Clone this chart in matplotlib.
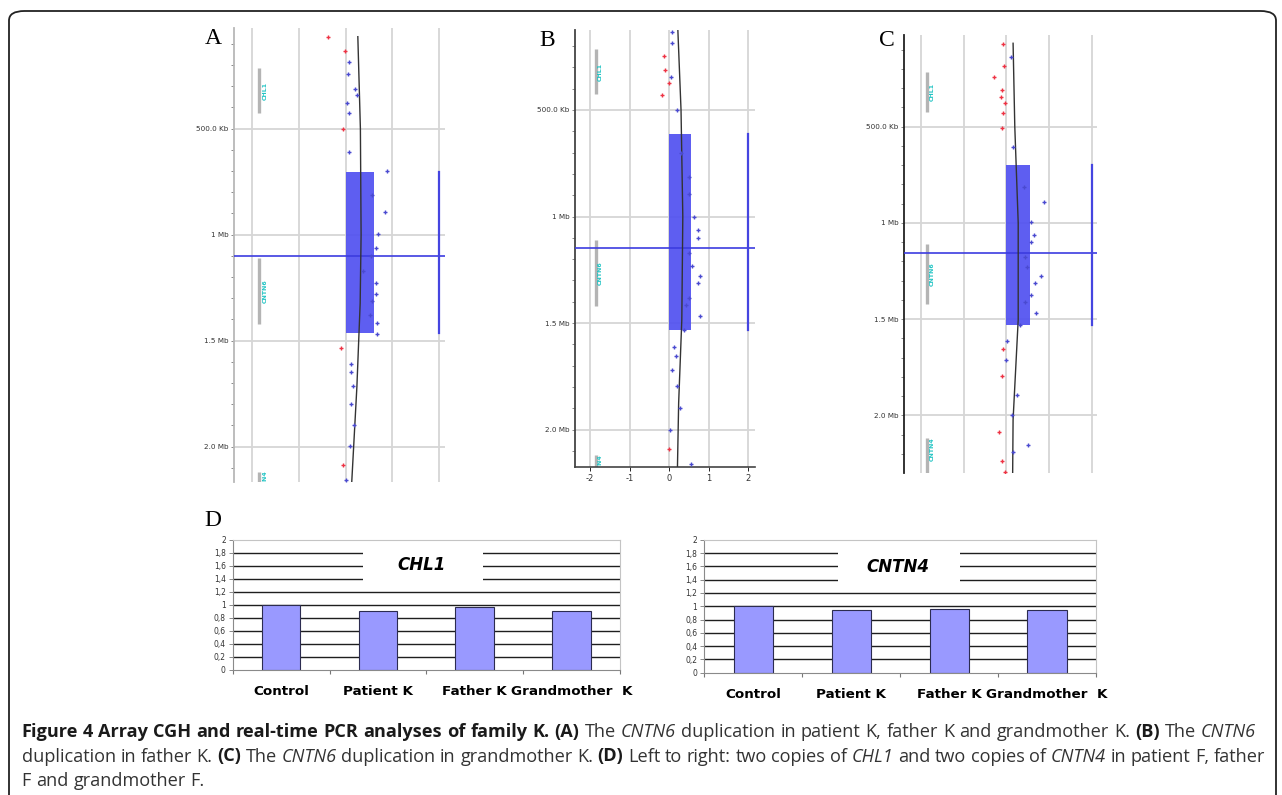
import matplotlib
matplotlib.use("Agg")
import matplotlib.pyplot as plt
from matplotlib.patches import Rectangle, FancyBboxPatch
from matplotlib.ticker import MultipleLocator, FixedLocator
import numpy as np

W, H = 1282, 795

# ---- array CGH data (x = log2 ratio, y = position in Mb) ----
a_red_x = [-0.39, -0.01, -0.06, -0.11, -0.05]
a_red_y = [0.069, 0.134, 0.503, 1.533, 2.086]
a_blue_x = [0.08, 0.04, 0.20, 0.24, 0.02, 0.06, 0.07, 0.89, 0.57, 0.85, 0.69, 0.64,
            0.54, 0.38, 0.66, 0.64, 0.57, 0.52, 0.68, 0.68, 0.11, 0.11, 0.16, 0.11,
            0.17, 0.09, 0.00]
a_blue_y = [0.187, 0.242, 0.313, 0.343, 0.377, 0.428, 0.608, 0.700, 0.813, 0.895, 0.997,
            1.061, 1.101, 1.170, 1.228, 1.278, 1.313, 1.377, 1.415, 1.469, 1.612, 1.649,
            1.714, 1.799, 1.898, 1.998, 2.159]
a_curve_x = [0.26, 0.315, 0.33, 0.31, 0.24, 0.13]
a_curve_y = [0.066, 0.5, 1.0, 1.324, 1.717, 2.165]
a_segment = [0.703, 1.465]
a_seg_width = 0.61
a_break = 1.102

b_red_x = [-0.14, -0.11, 0.00, -0.17, 0.00]
b_red_y = [0.247, 0.313, 0.375, 0.428, 2.091]
b_blue_x = [0.06, 0.08, 0.05, 0.20, 0.29, 0.51, 0.49, 0.62, 0.73, 0.72, 0.51, 0.57,
            0.78, 0.73, 0.51, 0.43, 0.78, 0.37, 0.13, 0.17, 0.08, 0.20, 0.28, 0.03, 0.56]
b_blue_y = [0.136, 0.188, 0.344, 0.500, 0.700, 0.816, 0.894, 1.000, 1.063, 1.102, 1.172,
            1.230, 1.278, 1.313, 1.380, 1.414, 1.466, 1.534, 1.613, 1.652, 1.719, 1.797,
            1.898, 2.000, 2.159]
b_curve_x = [0.22, 0.30, 0.345, 0.32, 0.24, 0.21]
b_curve_y = [0.125, 0.5, 1.0, 1.484, 1.875, 2.175]
b_segment = [0.613, 1.531]
b_seg_width = 0.556
b_break = 1.147

c_red_x = [-0.07, -0.06, -0.28, -0.11, -0.13, -0.03, -0.08, -0.09, -0.08, -0.11,
           -0.16, -0.10, -0.02]
c_red_y = [0.071, 0.185, 0.244, 0.310, 0.344, 0.375, 0.427, 0.505, 1.654, 1.794,
           2.086, 2.239, 2.296]
c_blue_x = [0.10, 0.15, 0.41, 0.88, 0.59, 0.65, 0.59, 0.44, 0.48, 0.81, 0.68, 0.57,
            0.45, 0.70, 0.33, 0.02, 0.00, 0.25, 0.13, 0.50, 0.16]
c_blue_y = [0.137, 0.607, 0.811, 0.894, 0.997, 1.062, 1.100, 1.175, 1.227, 1.275, 1.310,
            1.377, 1.413, 1.469, 1.529, 1.611, 1.714, 1.896, 2.000, 2.156, 2.192]
c_curve_x = [0.16, 0.20, 0.28, 0.28, 0.16, 0.15]
c_curve_y = [0.067, 0.5, 1.0, 1.503, 2.022, 2.299]
c_segment = [0.699, 1.529]
c_seg_width = 0.5625
c_break = 1.157

gene_names = ["CHL1", "CNTN6", "CNTN4"]
gene_starts = [0.215, 1.110, 2.118]
gene_ends = [0.425, 1.420, 2.40]

y_major = [0.5, 1.0, 1.5, 2.0]
y_major_labels = ["500.0 Kb", "1 Mb", "1.5 Mb", "2.0 Mb"]

# ---- real-time PCR data ----
pcr_groups = ["Control", "Patient K", "Father K", "Grandmother  K"]
chl1_values = [1.00, 0.90, 0.96, 0.90]
cntn4_values = [1.00, 0.95, 0.96, 0.94]
pcr_ticks = [0, 0.2, 0.4, 0.6, 0.8, 1, 1.2, 1.4, 1.6, 1.8, 2]

fig = plt.figure(figsize=(W / 100, H / 100), dpi=100)


def px_axes(left, top, right, bottom):
    return fig.add_axes([left / W, 1 - bottom / H, (right - left) / W, (bottom - top) / H])


def cgh_panel(ax, xlim, ylim, red_x, red_y, blue_x, blue_y, curve_x, curve_y,
              segment, seg_width, brk, spine_color, show_x):
    ax.set_xlim(*xlim)
    ax.set_ylim(ylim[1], ylim[0])
    for v in [-2, -1, 0, 1, 2]:
        ax.axvline(v, color="#d6d6d6", lw=1.3, zorder=0)
    for h in y_major:
        ax.axhline(h, color="#d6d6d6", lw=1.3, zorder=0)
    ax.add_patch(Rectangle((0, segment[0]), seg_width, segment[1] - segment[0],
                           facecolor="#5050f0", edgecolor="none", alpha=0.92, zorder=2))
    ax.axhline(brk, color="#3c3ce0", lw=1.2, zorder=3)
    ax.plot([2, 2], segment, color="#4545e0", lw=1.6, zorder=3)
    ax.plot(curve_x, curve_y, color="#333333", lw=1.0, zorder=4)
    ax.scatter(blue_x, blue_y, marker="+", s=8, color="#4a4ad0", linewidths=1.0, zorder=5)
    ax.scatter(red_x, red_y, marker="+", s=8, color="#ee3344", linewidths=1.0, zorder=5)
    for name, s, e in zip(gene_names, gene_starts, gene_ends):
        ax.plot([-1.85, -1.85], [s, e], color="#b4b4b4", lw=2.4, zorder=1,
                solid_capstyle="butt")
        if e < ylim[1]:
            ax.text(-1.73, (s + e) / 2, name, rotation=90, color="#22c4c4", fontsize=4.5,
                    fontweight="bold", ha="center", va="center", clip_on=True, zorder=1)
        else:
            # label runs past the bottom of the window and is cut off
            ax.text(-1.73, s - 0.005, name, rotation=90, color="#22c4c4", fontsize=4.5,
                    fontweight="bold", ha="center", va="top", clip_on=True, zorder=1)
    ax.yaxis.set_major_locator(FixedLocator(y_major))
    ax.set_yticklabels(y_major_labels, fontsize=5.2, color="#333333")
    ax.yaxis.set_minor_locator(MultipleLocator(0.1))
    ax.tick_params(axis="y", which="both", length=2.5, width=0.6, color="#777777", pad=1.5)
    for s in ["top", "right"]:
        ax.spines[s].set_visible(False)
    ax.spines["left"].set_color(spine_color)
    ax.spines["left"].set_linewidth(1.3)
    if show_x:
        ax.spines["bottom"].set_color("#444444")
        ax.spines["bottom"].set_linewidth(1.2)
        ax.set_xticks([-2, -1, 0, 1, 2])
        ax.set_xticklabels(["-2", "-1", "0", "1", "2"], fontsize=6, color="#333333")
        ax.tick_params(axis="x", length=3, width=0.6, pad=2)
    else:
        ax.spines["bottom"].set_visible(False)
        ax.set_xticks([])


ax_a = px_axes(234.3, 28, 445, 482)
cgh_panel(ax_a, (-2.39, 2.13), (0.025, 2.167), a_red_x, a_red_y, a_blue_x, a_blue_y,
          a_curve_x, a_curve_y, a_segment, a_seg_width, a_break, "#b8b8b8", False)
ax_b = px_axes(575, 30, 755, 467)
cgh_panel(ax_b, (-2.38, 2.17), (0.125, 2.175), b_red_x, b_red_y, b_blue_x, b_blue_y,
          b_curve_x, b_curve_y, b_segment, b_seg_width, b_break, "#444444", True)
ax_c = px_axes(904.3, 35, 1096.7, 473)
cgh_panel(ax_c, (-2.39, 2.12), (0.024, 2.299), c_red_x, c_red_y, c_blue_x, c_blue_y,
          c_curve_x, c_curve_y, c_segment, c_seg_width, c_break, "#222222", False)


def pcr_panel(ax, values, title, box_x, title_xy):
    ax.set_xlim(-0.5, 3.5)
    ax.set_ylim(0, 2)
    for v in pcr_ticks[1:-1]:
        ax.axhline(v, color="#1e1e1e", lw=1.0, zorder=0)
    ax.add_patch(Rectangle((box_x[0], 1.3), box_x[1] - box_x[0], 0.6,
                           facecolor="white", edgecolor="none", zorder=1))
    ax.bar(range(len(values)), values, width=0.4, color="#9999ff",
           edgecolor="#2c2c50", lw=0.8, zorder=2)
    ax.text(title_xy[0], title_xy[1], title, fontsize=12, fontweight="bold",
            fontstyle="italic", ha="center", va="center", zorder=3)
    ax.set_yticks(pcr_ticks)
    ax.set_yticklabels([f"{t:g}".replace(".", ",") for t in pcr_ticks], fontsize=5.5,
                       color="#333333")
    ax.tick_params(axis="y", length=3, width=0.6, color="#777777", pad=2)
    ax.set_xticks(range(len(values)))
    ax.set_xticklabels(pcr_groups, fontsize=9.7, fontweight="bold")
    ax.tick_params(axis="x", which="major", length=0, pad=11)
    ax.xaxis.set_minor_locator(FixedLocator([-0.5, 0.5, 1.5, 2.5, 3.5]))
    ax.tick_params(axis="x", which="minor", length=3, width=0.8, color="#777777")
    for s in ["top", "right"]:
        ax.spines[s].set_color("#c4c4c4")
    for s in ["left", "bottom"]:
        ax.spines[s].set_color("#8a8a8a")


ax_d1 = px_axes(232.7, 539.7, 620, 669.7)
pcr_panel(ax_d1, chl1_values, "CHL1", (0.846, 2.086), (1.452, 1.61))
ax_d2 = px_axes(704.3, 539.7, 1096, 672.7)
pcr_panel(ax_d2, cntn4_values, "CNTN4", (0.863, 2.112), (1.48, 1.594))

# panel letters
for letter, x, y in [("A", 213, 38), ("B", 547, 40), ("C", 887, 40), ("D", 213, 520)]:
    fig.text(x / W, 1 - y / H, letter, fontsize=17, family="Liberation Serif",
             ha="center", va="center")

# frame
fig.patches.append(FancyBboxPatch((9 / W, -20 / H), 1267 / W, (H - 11 + 20) / H,
                                  boxstyle="round,pad=0,rounding_size=0.012",
                                  transform=fig.transFigure, facecolor="none",
                                  edgecolor="#222222", lw=1.3))

# caption
caption_lines = [
    [("Figure 4 Array CGH and real-time PCR analyses of family K.", "b"), ("(A)", "b"),
     ("The", "n"), ("CNTN6", "i"), ("duplication in patient K, father K and grandmother K.", "n"),
     ("(B)", "b"), ("The", "n"), ("CNTN6", "i")],
    [("duplication in father K.", "n"), ("(C)", "b"), ("The", "n"), ("CNTN6", "i"),
     ("duplication in grandmother K.", "n"), ("(D)", "b"),
     ("Left to right: two copies of", "n"), ("CHL1", "i"), ("and two copies of", "n"),
     ("CNTN4", "i"), ("in patient F, father", "n")],
    [("F and grandmother F.", "n")],
]
caption_base = [737, 761.5, 786]
caption_right = [1256, 1265, None]
cap_left = 21.7
renderer = fig.canvas.get_renderer()


def make_words(line, fs, base):
    texts = []
    for seg, style in line:
        for w in seg.split():
            texts.append(fig.text(0, 1 - base / H, w, fontsize=fs, family="Open Sans",
                                  fontweight="bold" if style == "b" else "normal",
                                  fontstyle="italic" if style == "i" else "normal",
                                  ha="left", va="baseline",
                                  color="#1a1a1a" if style == "b" else "#333333"))
    widths = [t.get_window_extent(renderer).width for t in texts]
    return texts, widths


# fit the font size so the first line has natural word spacing
probe_fs = 10.0
probe, pw = make_words(caption_lines[0], probe_fs, caption_base[0])
natural = sum(pw) + 0.27 * probe_fs * 100 / 72 * (len(pw) - 1)
for t in probe:
    t.remove()
cap_fs = probe_fs * (caption_right[0] - cap_left) / natural

for line, base, right in zip(caption_lines, caption_base, caption_right):
    texts, widths = make_words(line, cap_fs, base)
    gap = 0.27 * cap_fs * 100 / 72
    if right is not None and len(texts) > 1:
        gap = (right - cap_left - sum(widths)) / (len(texts) - 1)
    x = cap_left
    for t, wd in zip(texts, widths):
        t.set_x(x / W)
        x += wd + gap

fig.savefig("out.png", dpi=100, facecolor="white")
